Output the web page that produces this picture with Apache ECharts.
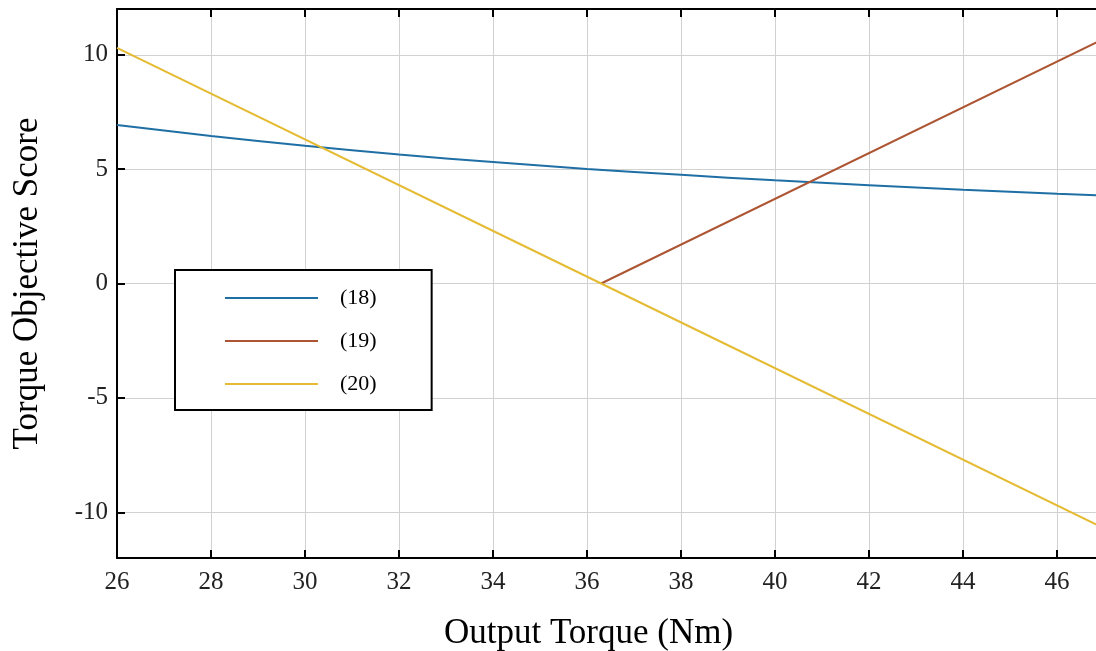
<!DOCTYPE html>
<html>
<head>
<meta charset="utf-8">
<script src="https://cdn.jsdelivr.net/npm/echarts@6/dist/echarts.min.js"></script>
<style>
  html, body { margin: 0; padding: 0; background: #fff; }
  #chart { width: 1096px; height: 651px; }
</style>
</head>
<body>
<div id="chart"></div>
<script>
// Output torque (Nm) sample points and objective scores per criterion
const torque18 = [26, 28, 30, 32, 34, 36, 38, 40, 42, 44, 46, 47];
const score18  = [6.93, 6.45, 6.02, 5.64, 5.31, 5.01, 4.75, 4.51, 4.30, 4.10, 3.92, 3.84];

const torque19 = [36.3, 47];
const score19  = [0, 10.7];

const torque20 = [26, 36.3, 47];
const score20  = [10.3, 0, -10.7];

const seriesNames = ['(18)', '(19)', '(20)'];
const yTickValues = [-10, -5, 0, 5, 10];

const FONT = '"Liberation Serif", "DejaVu Serif", serif';
const colors = ['#1f6fa5', '#ad5533', '#e4bb32'];

function pairs(xs, ys) { return xs.map((x, i) => [x, ys[i]]); }

const chart = echarts.init(document.getElementById('chart'));

const boxAxisLine = { show: true, onZero: false, lineStyle: { color: '#000', width: 2 } };
const boxTick = { show: true, inside: true, length: 8, lineStyle: { color: '#000', width: 2 } };

chart.setOption({
  backgroundColor: '#fff',
  animation: false,
  color: colors,
  // the plot box runs a little past the right edge of the canvas
  grid: { left: 117, top: 9, bottom: 93, right: -8, outerBoundsMode: 'none', containLabel: false },
  legend: {
    orient: 'vertical',
    left: 175,
    top: 270,
    data: seriesNames.map(n => ({ name: n, icon: 'rect' })),
    backgroundColor: '#fff',
    borderColor: '#000',
    borderWidth: 2,
    borderRadius: 0,
    padding: [17, 55, 15, 50],
    itemWidth: 93,
    itemHeight: 2,
    itemGap: 21,
    textStyle: { fontFamily: FONT, fontSize: 22, color: '#000', lineHeight: 22, padding: [0, 0, 0, 17] }
  },
  xAxis: [
    {
      type: 'value', min: 26, max: 47, interval: 2, position: 'bottom',
      name: 'Output Torque (Nm)', nameLocation: 'middle', nameGap: 58,
      nameTextStyle: { fontFamily: FONT, fontSize: 35, color: '#000', padding: [0, 44, 0, 0] },
      axisLine: boxAxisLine, axisTick: boxTick,
      axisLabel: { fontFamily: FONT, fontSize: 25, color: '#222', margin: 12, showMaxLabel: false },
      splitLine: { show: true, lineStyle: { color: '#d2d2d2', width: 1 } }
    },
    {
      type: 'value', min: 26, max: 47, interval: 2, position: 'top',
      axisLine: boxAxisLine, axisTick: boxTick,
      axisLabel: { show: false }, splitLine: { show: false }
    }
  ],
  yAxis: [
    {
      type: 'value', min: -12, max: 12, position: 'left',
      name: 'Torque Objective Score', nameLocation: 'middle', nameGap: 72, nameRotate: 90,
      nameTextStyle: { fontFamily: FONT, fontSize: 35, color: '#000' },
      axisLine: boxAxisLine,
      axisTick: Object.assign({ customValues: yTickValues }, boxTick),
      axisLabel: { customValues: yTickValues, fontFamily: FONT, fontSize: 25, color: '#222', margin: 9 },
      splitLine: { show: true, lineStyle: { color: '#d2d2d2', width: 1 } }
    },
    {
      type: 'value', min: -12, max: 12, position: 'right',
      axisLine: boxAxisLine,
      axisTick: Object.assign({ customValues: yTickValues }, boxTick),
      axisLabel: { show: false }, splitLine: { show: false }
    }
  ],
  series: [
    { name: seriesNames[0], type: 'line', data: pairs(torque18, score18), smooth: true, symbol: 'none', lineStyle: { width: 2 } },
    { name: seriesNames[1], type: 'line', data: pairs(torque19, score19), symbol: 'none', lineStyle: { width: 2 } },
    { name: seriesNames[2], type: 'line', data: pairs(torque20, score20), symbol: 'none', lineStyle: { width: 2 } }
  ]
});
</script>
</body>
</html>
